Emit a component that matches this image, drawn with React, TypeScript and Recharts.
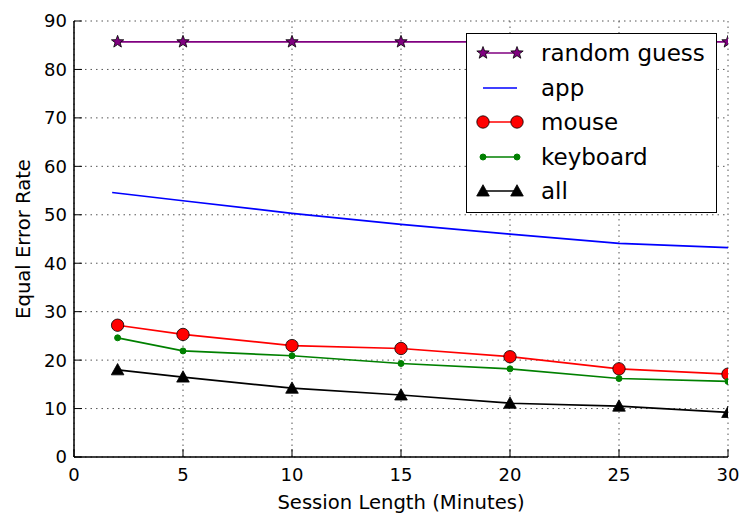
import React from 'react';
import { LineChart, Line, XAxis, YAxis, CartesianGrid } from 'recharts';

const sessionMinutes = [2, 5, 10, 15, 20, 25, 30];
const appMinutes = [1.75, 5, 10, 15, 20, 25, 30];
const randomGuess = [85.7, 85.7, 85.7, 85.7, 85.7, 85.7, 85.7];
const appRate = [54.6, 52.9, 50.3, 48.0, 46.0, 44.1, 43.2];
const mouseRate = [27.2, 25.3, 23.0, 22.4, 20.7, 18.2, 17.1];
const keyboardRate = [24.6, 21.9, 20.9, 19.3, 18.2, 16.2, 15.6];
const allRate = [18.0, 16.5, 14.2, 12.8, 11.1, 10.5, 9.2];

const xTicks = [0, 5, 10, 15, 20, 25, 30];
const yTicks = [0, 10, 20, 30, 40, 50, 60, 70, 80, 90];

const mainData = sessionMinutes.map((m, i) => ({
  m,
  random: randomGuess[i],
  mouse: mouseRate[i],
  keyboard: keyboardRate[i],
  all: allRate[i],
}));
const appData = appMinutes.map((m, i) => ({ m, app: appRate[i] }));

const FONT = 'DejaVu Sans';
const TICK_LEN = 8;

const BottomTick = (p: any) => (
  <g>
    <line x1={p.x} y1={p.y} x2={p.x} y2={p.y - TICK_LEN} stroke="#000" strokeWidth={1} />
    <text x={p.x} y={p.y + 24} textAnchor="middle" fontFamily={FONT} fontSize={18} fill="#000">
      {p.payload.value}
    </text>
  </g>
);
const LeftTick = (p: any) => (
  <g>
    <line x1={p.x} y1={p.y} x2={p.x + TICK_LEN} y2={p.y} stroke="#000" strokeWidth={1} />
    <text x={p.x - 7} y={p.y} dy="0.36em" textAnchor="end" fontFamily={FONT} fontSize={18} fill="#000">
      {p.payload.value}
    </text>
  </g>
);
const TopTick = (p: any) => (
  <line x1={p.x} y1={p.y} x2={p.x} y2={p.y + TICK_LEN} stroke="#000" strokeWidth={1} />
);
const RightTick = (p: any) => (
  <line x1={p.x} y1={p.y} x2={p.x - TICK_LEN} y2={p.y} stroke="#000" strokeWidth={1} />
);

const Star = (p: any) => {
  const { cx, cy } = p;
  if (cx == null || cy == null) return null;
  const R = 6.5, r = 2.7;
  const pts: string[] = [];
  for (let i = 0; i < 10; i++) {
    const a = -Math.PI / 2 + (i * Math.PI) / 5;
    const rad = i % 2 === 0 ? R : r;
    pts.push(`${cx + rad * Math.cos(a)},${cy + rad * Math.sin(a)}`);
  }
  return <polygon key={`s${cx}`} points={pts.join(' ')} fill="#800080" stroke="#000" strokeWidth={0.8} />;
};
const Tri = (p: any) => {
  const { cx, cy } = p;
  if (cx == null || cy == null) return null;
  const s = 6.3;
  return (
    <polygon
      key={`t${cx}`}
      points={`${cx},${cy - s} ${cx - s},${cy + s * 0.8} ${cx + s},${cy + s * 0.8}`}
      fill="#000"
      stroke="#000"
      strokeWidth={0.8}
    />
  );
};

const legendItems = [
  { name: 'random guess', color: '#800080', marker: 'star' },
  { name: 'app', color: '#0000ff', marker: 'none' },
  { name: 'mouse', color: '#ff0000', marker: 'circle' },
  { name: 'keyboard', color: '#008000', marker: 'dot' },
  { name: 'all', color: '#000000', marker: 'tri' },
];

const LegendMarker = ({ kind, color, cx, cy }: any) => {
  if (kind === 'star') return <Star cx={cx} cy={cy} />;
  if (kind === 'circle') return <circle cx={cx} cy={cy} r={6.2} fill="#ff0000" stroke="#000" strokeWidth={0.8} />;
  if (kind === 'dot') return <circle cx={cx} cy={cy} r={3} fill={color} stroke={color} />;
  if (kind === 'tri') return <Tri cx={cx} cy={cy} />;
  return null;
};

const LegendBox = () => (
  <div
    style={{
      position: 'absolute',
      left: 466,
      top: 33,
      width: 251,
      height: 180,
      border: '1.5px solid #000',
      background: '#fff',
      boxSizing: 'border-box',
    }}
  >
    {legendItems.map((it, i) => (
      <div
        key={it.name}
        style={{ position: 'absolute', left: 0, top: 2 + i * 34.6, height: 34, display: 'flex', alignItems: 'center' }}
      >
        <svg width={70} height={34} style={{ display: 'block' }}>
          <line x1={16} y1={17} x2={50} y2={17} stroke={it.color} strokeWidth={1.6} />
          <LegendMarker kind={it.marker} color={it.color} cx={16} cy={17} />
          <LegendMarker kind={it.marker} color={it.color} cx={50} cy={17} />
        </svg>
        <span style={{ fontFamily: FONT, fontSize: 23, color: '#000', marginLeft: 4, lineHeight: '34px', whiteSpace: 'nowrap' }}>
          {it.name}
        </span>
      </div>
    ))}
  </div>
);

export default function App() {
  return (
    <div style={{ position: 'absolute', left: 0, top: 0, width: 743, height: 516, background: '#fff' }}>
      <LineChart width={743} height={516} margin={{ top: 21, right: 15, bottom: 0, left: 0 }}>
        <CartesianGrid stroke="#555" strokeDasharray="1.5 4" strokeWidth={1} />
        <XAxis
          dataKey="m"
          type="number"
          domain={[0, 30]}
          ticks={xTicks}
          allowDataOverflow
          interval={0}
          height={59}
          tickSize={0}
          tickMargin={0}
          tickLine={false}
          axisLine={{ stroke: '#000', strokeWidth: 1.5 }}
          tick={<BottomTick />}
          label={{
            value: 'Session Length (Minutes)',
            position: 'insideBottom',
            offset: 7,
            style: { fontFamily: FONT, fontSize: 19.6, fill: '#000' },
          }}
        />
        <XAxis
          xAxisId="top"
          dataKey="m"
          type="number"
          orientation="top"
          domain={[0, 30]}
          ticks={xTicks}
          allowDataOverflow
          interval={0}
          height={0}
          tickSize={0}
          tickMargin={0}
          tickLine={false}
          axisLine={{ stroke: '#000', strokeWidth: 1.5 }}
          tick={<TopTick />}
        />
        <YAxis
          type="number"
          domain={[0, 90]}
          ticks={yTicks}
          allowDataOverflow
          interval={0}
          width={74}
          tickSize={0}
          tickMargin={0}
          tickLine={false}
          axisLine={{ stroke: '#000', strokeWidth: 1.5 }}
          tick={<LeftTick />}
          label={(props: any) => {
            const vb = props.viewBox || {};
            const x = (vb.x ?? 0) + 30;
            const y = (vb.y ?? 0) + (vb.height ?? 0) / 2;
            return (
              <text
                x={x}
                y={y}
                transform={`rotate(-90 ${x} ${y})`}
                textAnchor="middle"
                fontFamily={FONT}
                fontSize={19.6}
                fill="#000"
              >
                Equal Error Rate
              </text>
            );
          }}
        />
        <YAxis
          yAxisId="right"
          orientation="right"
          type="number"
          domain={[0, 90]}
          ticks={yTicks}
          allowDataOverflow
          interval={0}
          width={0}
          tickSize={0}
          tickMargin={0}
          tickLine={false}
          axisLine={{ stroke: '#000', strokeWidth: 1.5 }}
          tick={<RightTick />}
        />
        <Line
          data={mainData}
          dataKey="random"
          stroke="#800080"
          strokeWidth={1.7}
          dot={<Star />}
          isAnimationActive={false}
        />
        <Line
          data={appData}
          dataKey="app"
          stroke="#0000ff"
          strokeWidth={1.7}
          dot={false}
          isAnimationActive={false}
        />
        <Line
          data={mainData}
          dataKey="mouse"
          stroke="#ff0000"
          strokeWidth={1.7}
          dot={{ r: 6.2, fill: '#ff0000', stroke: '#000', strokeWidth: 0.8 }}
          isAnimationActive={false}
        />
        <Line
          data={mainData}
          dataKey="keyboard"
          stroke="#008000"
          strokeWidth={1.7}
          dot={{ r: 3, fill: '#008000', stroke: '#008000', strokeWidth: 1 }}
          isAnimationActive={false}
        />
        <Line
          data={mainData}
          dataKey="all"
          stroke="#000"
          strokeWidth={1.7}
          dot={<Tri />}
          isAnimationActive={false}
        />
      </LineChart>
      <LegendBox />
    </div>
  );
}
